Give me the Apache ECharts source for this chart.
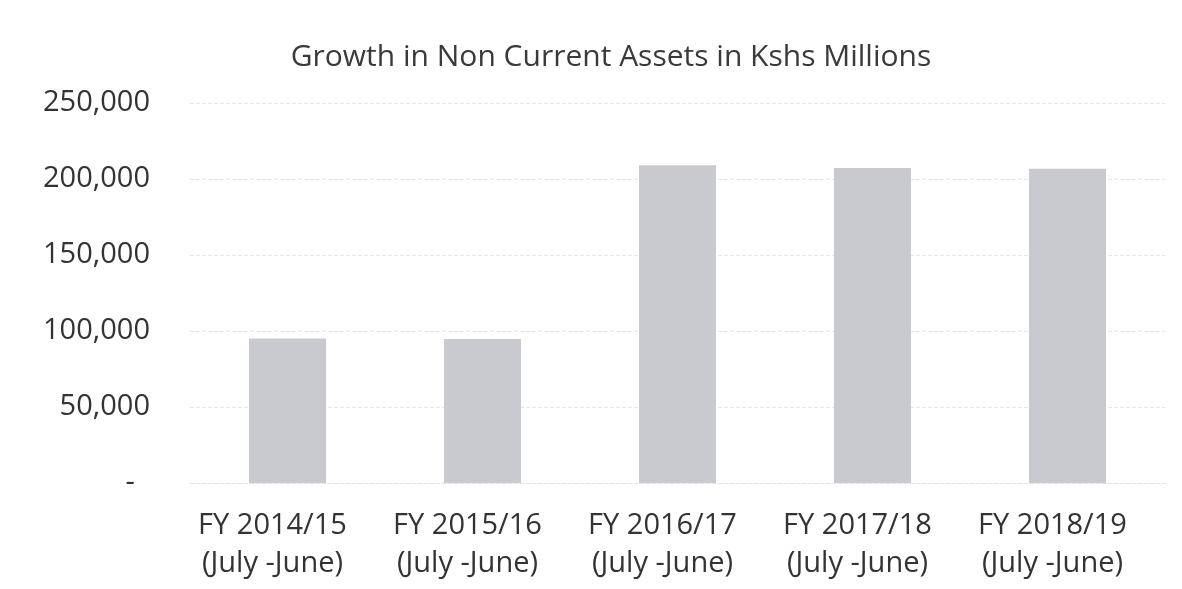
<!DOCTYPE html>
<html>
<head>
<meta charset="utf-8">
<script src="https://cdn.jsdelivr.net/npm/echarts@6/dist/echarts.min.js"></script>
<style>
  html, body { margin: 0; padding: 0; background: #fff; }
  #main { width: 1182px; height: 589px; }
</style>
</head>
<body>
<div id="main"></div>
<script>
var years = ["FY 2014/15", "FY 2015/16", "FY 2016/17", "FY 2017/18", "FY 2018/19"];
var period = "(July -June)";
var assets = [95000, 94800, 209000, 207200, 206800];

var chartDom = document.getElementById("main");
var myChart = echarts.init(chartDom);
var option;

option = {
  backgroundColor: "#fff",
  title: {
    text: "Growth in Non Current Assets in Kshs Millions",
    left: 606,
    textAlign: "center",
    top: 37,
    textStyle: {
      fontFamily: "Open Sans",
      fontWeight: "normal",
      fontSize: 30,
      color: "#3a3a3a"
    }
  },
  grid: {
    left: 190,
    right: 17,
    top: 103,
    bottom: 106
  },
  xAxis: {
    type: "category",
    data: years.map(function (y) { return y + "\n" + period; }),
    axisLine: { lineStyle: { color: "#e4e4e4", type: "dashed" } },
    axisTick: { show: false },
    axisLabel: {
      margin: 24,
      padding: [0, 30, 0, 0],
      fontFamily: "Open Sans",
      fontSize: 29,
      lineHeight: 38,
      color: "#333"
    }
  },
  yAxis: {
    type: "value",
    min: 0,
    max: 250000,
    interval: 50000,
    axisLine: { show: false },
    axisTick: { show: false },
    splitLine: { lineStyle: { color: "#e6e6e6", type: "dashed" } },
    axisLabel: {
      margin: 40,
      fontFamily: "Open Sans",
      fontSize: 29,
      color: "#333",
      formatter: function (v) {
        return v === 0 ? "-  " : v.toLocaleString("en-US");
      }
    }
  },
  series: [
    {
      type: "bar",
      data: assets,
      barWidth: 77,
      itemStyle: { color: "#c9cacf" }
    }
  ]
};

option && myChart.setOption(option);
</script>
</body>
</html>
